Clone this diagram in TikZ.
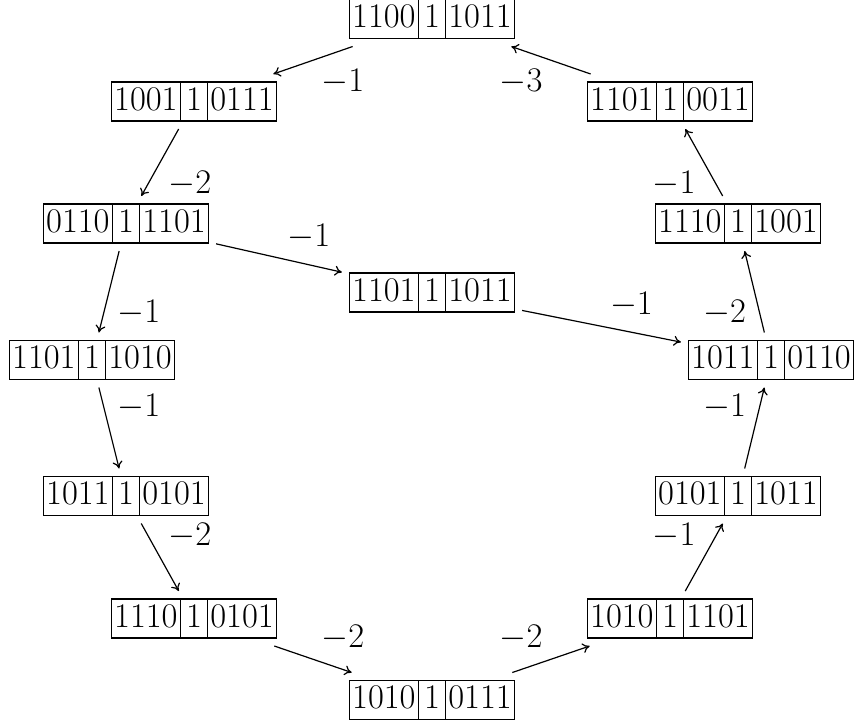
\documentclass[tikz,border=0pt]{standalone}
\usetikzlibrary{shapes.multipart,arrows.meta}
\newcommand\cellstrut{\rule[-5.5pt]{0pt}{19.5pt}}
\newcommand\cells[3]{\makebox[34pt]{\cellstrut$#1$}\nodepart{two}\makebox[13pt]{\cellstrut$#2$}\nodepart{three}\makebox[34pt]{\cellstrut$#3$}}
\begin{document}
\begin{tikzpicture}[x=0.5pt,y=-0.5pt,
  every node/.style={font=\fontsize{16.8}{19}\selectfont},
  state/.style={draw, line width=0.55pt, rectangle split, rectangle split horizontal,
    rectangle split parts=3, inner sep=0pt, outer sep=4pt},
  conn/.style={-{To[length=3.6pt,width=5pt]}, line width=0.6pt},
  lab/.style={inner sep=4pt}]
\useasboundingbox (0,0) rectangle (856,724);
\node[state] (A) at (432,19)    {\cells{1100}{1}{1011}};
\node[state] (B) at (194,101.5) {\cells{1001}{1}{0111}};
\node[state] (C) at (670,101.5) {\cells{1101}{1}{0011}};
\node[state] (D) at (126,223.5) {\cells{0110}{1}{1101}};
\node[state] (E) at (738,223.5) {\cells{1110}{1}{1001}};
\node[state] (F) at (432,292.5) {\cells{1101}{1}{1011}};
\node[state] (G) at (92,360)    {\cells{1101}{1}{1010}};
\node[state] (H) at (771,360)   {\cells{1011}{1}{0110}};
\node[state] (I) at (126,496)   {\cells{1011}{1}{0101}};
\node[state] (J) at (738,496)   {\cells{0101}{1}{1011}};
\node[state] (K) at (194,618.5) {\cells{1110}{1}{0101}};
\node[state] (L) at (670,618.5) {\cells{1010}{1}{1101}};
\node[state] (M) at (432,700)   {\cells{1010}{1}{0111}};
\draw[conn] (A) -- node[lab, midway, below right] {$-1$} (B);
\draw[conn] (B) -- node[lab, midway, below right] {$-2$} (D);
\draw[conn] (D) -- node[lab, midway, below right] {$-1$} (G);
\draw[conn] (D) -- node[lab, midway, above right] {$-1$} (F);
\draw[conn] (F) -- node[lab, midway, above right] {$-1$} (H);
\draw[conn] (G) -- node[lab, midway, above right] {$-1$} (I);
\draw[conn] (I) -- node[lab, midway, above right] {$-2$} (K);
\draw[conn] (K) -- node[lab, midway, above right] {$-2$} (M);
\draw[conn] (M) -- node[lab, midway, above left] {$-2$} (L);
\draw[conn] (L) -- node[lab, midway, above left] {$-1$} (J);
\draw[conn] (J) -- node[lab, midway, above left] {$-1$} (H);
\draw[conn] (H) -- node[lab, midway, below left] {$-2$} (E);
\draw[conn] (E) -- node[lab, midway, below left] {$-1$} (C);
\draw[conn] (C) -- node[lab, midway, below left] {$-3$} (A);
\end{tikzpicture}
\end{document}
